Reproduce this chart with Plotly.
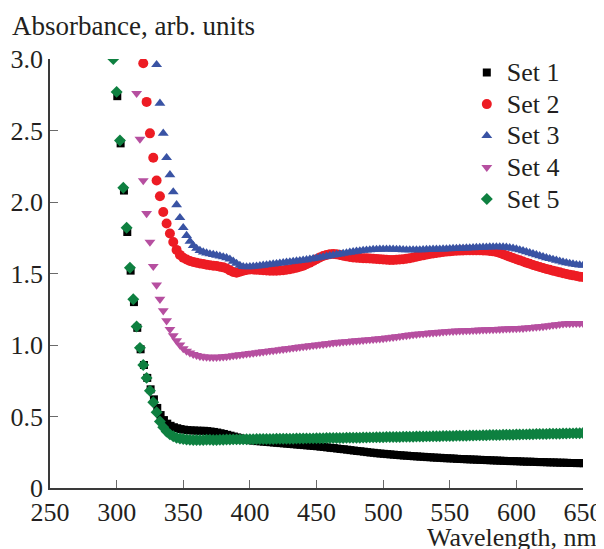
import plotly.graph_objects as go

# ---------------- data (absorbance) ----------------
STEP = 2.5            # nm between successive points
START_MAIN = 297.5    # first wavelength of Sets 2-5
START_SET1 = 300.5    # first wavelength of Set 1

set1 = [
    2.74, 2.41, 2.08, 1.79, 1.52, 1.30, 1.12, 0.97, 0.86, 0.77,
    0.69, 0.62, 0.56, 0.51, 0.475, 0.45, 0.435, 0.425, 0.418, 0.412,
    0.408, 0.405, 0.403, 0.402, 0.401, 0.40, 0.40, 0.398, 0.395, 0.392,
    0.388, 0.383, 0.378, 0.372, 0.366, 0.36, 0.354, 0.348, 0.343, 0.338,
    0.334, 0.331, 0.328, 0.326, 0.324, 0.322, 0.32, 0.318, 0.316, 0.314,
    0.312, 0.31, 0.308, 0.306, 0.304, 0.302, 0.30, 0.298, 0.296, 0.294,
    0.292, 0.289, 0.287, 0.284, 0.281, 0.279, 0.276, 0.273, 0.271, 0.268,
    0.265, 0.262, 0.259, 0.257, 0.254, 0.251, 0.248, 0.246, 0.243, 0.241,
    0.239, 0.237, 0.235, 0.233, 0.231, 0.229, 0.227, 0.226, 0.224, 0.222,
    0.221, 0.219, 0.218, 0.216, 0.215, 0.213, 0.212, 0.211, 0.209, 0.208,
    0.207, 0.206, 0.204, 0.203, 0.202, 0.201, 0.20, 0.199, 0.198, 0.197,
    0.196, 0.195, 0.194, 0.193, 0.192, 0.191, 0.19, 0.189, 0.188, 0.188,
    0.187, 0.186, 0.185, 0.184, 0.184, 0.183, 0.182, 0.181, 0.181, 0.18,
    0.179, 0.179, 0.178, 0.177, 0.177, 0.176, 0.175, 0.175, 0.174, 0.174,
    0.173,
]

set2 = [
    None, None, None, None, None, None, None, None, None, 2.97,
    2.70, 2.48, 2.31, 2.15, 2.04, 1.93, 1.85, 1.78, 1.72, 1.665,
    1.63, 1.61, 1.598, 1.588, 1.58, 1.575, 1.57, 1.566, 1.562, 1.558,
    1.555, 1.552, 1.548, 1.543, 1.535, 1.522, 1.51, 1.505, 1.512, 1.52,
    1.525, 1.528, 1.528, 1.527, 1.525, 1.523, 1.521, 1.52, 1.52, 1.52,
    1.521, 1.523, 1.526, 1.53, 1.535, 1.54, 1.547, 1.555, 1.565, 1.576,
    1.588, 1.60, 1.612, 1.622, 1.63, 1.635, 1.636, 1.634, 1.63, 1.625,
    1.62, 1.616, 1.612, 1.61, 1.608, 1.607, 1.606, 1.605, 1.604, 1.602,
    1.60, 1.598, 1.596, 1.595, 1.595, 1.596, 1.598, 1.60, 1.603, 1.607,
    1.612, 1.617, 1.622, 1.627, 1.632, 1.636, 1.64, 1.644, 1.647, 1.65,
    1.653, 1.655, 1.657, 1.659, 1.66, 1.661, 1.662, 1.662, 1.662, 1.662,
    1.662, 1.661, 1.66, 1.658, 1.655, 1.65, 1.643, 1.635, 1.626, 1.617,
    1.608, 1.60, 1.592, 1.584, 1.576, 1.568, 1.56, 1.553, 1.546, 1.539,
    1.532, 1.526, 1.52, 1.514, 1.508, 1.502, 1.497, 1.492, 1.487, 1.482,
    1.478, 1.475,
]

set3 = [
    None, None, None, None, None, None, None, None, None, None,
    None, None, None, 2.96, 2.69, 2.48, 2.31, 2.19, 2.07, 1.98,
    1.89, 1.82, 1.765, 1.725, 1.695, 1.675, 1.66, 1.65, 1.643, 1.637,
    1.632, 1.627, 1.622, 1.616, 1.61, 1.60, 1.585, 1.57, 1.556, 1.548,
    1.546, 1.547, 1.549, 1.551, 1.554, 1.557, 1.56, 1.563, 1.566, 1.569,
    1.572, 1.575, 1.578, 1.581, 1.584, 1.587, 1.59, 1.593, 1.596, 1.60,
    1.604, 1.608, 1.612, 1.616, 1.62, 1.624, 1.628, 1.632, 1.636, 1.64,
    1.644, 1.648, 1.652, 1.655, 1.658, 1.661, 1.663, 1.665, 1.667, 1.668,
    1.669, 1.67, 1.67, 1.67, 1.669, 1.668, 1.667, 1.666, 1.665, 1.665,
    1.665, 1.665, 1.665, 1.666, 1.667, 1.668, 1.669, 1.67, 1.67, 1.671,
    1.672, 1.673, 1.674, 1.675, 1.676, 1.677, 1.678, 1.679, 1.68, 1.681,
    1.682, 1.683, 1.684, 1.685, 1.686, 1.686, 1.686, 1.685, 1.683, 1.68,
    1.676, 1.671, 1.665, 1.659, 1.652, 1.645, 1.638, 1.631, 1.624, 1.617,
    1.61, 1.604, 1.598, 1.592, 1.586, 1.58, 1.575, 1.57, 1.566, 1.562,
    1.559, 1.556,
]

set4 = [
    None, None, None, None, None, None, None, 2.76, 2.44, 2.15,
    1.92, 1.72, 1.55, 1.42, 1.32, 1.24, 1.17, 1.11, 1.065, 1.03,
    1.0, 0.975, 0.958, 0.945, 0.935, 0.928, 0.922, 0.918, 0.916, 0.915,
    0.915, 0.915, 0.916, 0.918, 0.92, 0.923, 0.926, 0.929, 0.932, 0.935,
    0.938, 0.941, 0.944, 0.947, 0.95, 0.953, 0.956, 0.959, 0.962, 0.965,
    0.968, 0.971, 0.974, 0.977, 0.98, 0.983, 0.986, 0.989, 0.992, 0.995,
    0.998, 1.0, 1.003, 1.006, 1.009, 1.012, 1.015, 1.018, 1.02, 1.022,
    1.024, 1.026, 1.028, 1.03, 1.032, 1.034, 1.036, 1.038, 1.04, 1.042,
    1.044, 1.046, 1.049, 1.052, 1.055, 1.058, 1.061, 1.064, 1.067, 1.07,
    1.073, 1.076, 1.078, 1.08, 1.082, 1.084, 1.086, 1.088, 1.09, 1.092,
    1.094, 1.096, 1.097, 1.098, 1.099, 1.10, 1.101, 1.102, 1.103, 1.104,
    1.105, 1.106, 1.107, 1.108, 1.109, 1.11, 1.111, 1.112, 1.113, 1.114,
    1.115, 1.116, 1.117, 1.118, 1.12, 1.122, 1.124, 1.126, 1.128, 1.13,
    1.133, 1.136, 1.139, 1.142, 1.145, 1.148, 1.15, 1.151, 1.152, 1.152,
    1.152, 1.152,
]

set5 = [
    3.00, 2.77, 2.43, 2.10, 1.82, 1.54, 1.32, 1.13, 0.98, 0.86,
    0.77, 0.68, 0.60, 0.53, 0.465, 0.425, 0.395, 0.375, 0.362, 0.352,
    0.346, 0.342, 0.339, 0.337, 0.336, 0.335, 0.335, 0.336, 0.337, 0.337,
    0.336, 0.336, 0.337, 0.338, 0.339, 0.339, 0.34, 0.34, 0.34, 0.34,
    0.341, 0.341, 0.341, 0.342, 0.342, 0.342, 0.343, 0.343, 0.343, 0.344,
    0.344, 0.344, 0.345, 0.345, 0.345, 0.346, 0.346, 0.346, 0.347, 0.347,
    0.347, 0.348, 0.348, 0.348, 0.349, 0.349, 0.349, 0.35, 0.35, 0.35,
    0.351, 0.351, 0.352, 0.352, 0.352, 0.353, 0.353, 0.354, 0.354, 0.355,
    0.355, 0.355, 0.356, 0.356, 0.357, 0.357, 0.357, 0.358, 0.358, 0.359,
    0.359, 0.36, 0.36, 0.36, 0.361, 0.361, 0.362, 0.362, 0.362, 0.363,
    0.363, 0.364, 0.364, 0.365, 0.365, 0.366, 0.366, 0.367, 0.367, 0.368,
    0.368, 0.369, 0.369, 0.37, 0.37, 0.371, 0.371, 0.372, 0.372, 0.373,
    0.373, 0.374, 0.374, 0.375, 0.375, 0.376, 0.376, 0.377, 0.377, 0.378,
    0.378, 0.379, 0.379, 0.38, 0.38, 0.381, 0.381, 0.382, 0.382, 0.383,
    0.383, 0.384,
]

series_names = ["Set 1", "Set 2", "Set 3", "Set 4", "Set 5"]
x_ticks = [250, 300, 350, 400, 450, 500, 550, 600, 650]
y_ticks = [0, 0.5, 1.0, 1.5, 2.0, 2.5, 3.0]
y_tick_text = ["0", "0.5", "1.0", "1.5", "2.0", "2.5", "3.0"]


def wavelengths(start, n):
    return [start + STEP * i for i in range(n)]


styles = [
    dict(symbol="square", size=8, color="#000000"),
    dict(symbol="circle", size=10, color="#ED1C24"),
    dict(symbol="triangle-up", size=9.5, color="#3953A4"),
    dict(symbol="triangle-down", size=9.5, color="#B64FA0"),
    dict(symbol="diamond", size=9.2, color="#0E8040"),
]
values = [set1, set2, set3, set4, set5]
starts = [START_SET1, START_MAIN, START_MAIN, START_MAIN, START_MAIN]

FONT = "Liberation Serif"
TXT = "#231F20"

fig = go.Figure()
for name, vals, st, sty in zip(series_names, values, starts, styles):
    fig.add_trace(go.Scatter(
        x=wavelengths(st, len(vals)), y=vals, mode="markers",
        name='<span style="font-size:26px">' + name + '</span>',
        marker=dict(symbol=sty["symbol"], size=sty["size"], color=sty["color"],
                    line=dict(width=0)),
        cliponaxis=True,
    ))

axis_common = dict(
    showline=True, linecolor="#3a3a3a", linewidth=1.5,
    ticks="inside", ticklen=8, tickwidth=1.2, tickcolor="#6a6a6a",
    showgrid=False, zeroline=False, automargin=False,
    tickfont=dict(family=FONT, size=26, color=TXT),
)

# the page has an 8 px body margin, so the figure is drawn 8 px in from the window edge
fig.update_layout(
    template="none",
    width=596, height=541,
    margin=dict(l=42, r=21, t=51, b=61, autoexpand=False),
    paper_bgcolor="white", plot_bgcolor="white",
    font=dict(family=FONT, size=26, color=TXT),
    xaxis=dict(range=[250, 650], tickvals=x_ticks, **axis_common),
    yaxis=dict(range=[0, 3.0], tickvals=y_ticks, ticktext=y_tick_text, **axis_common),
    showlegend=True,
    legend=dict(x=0.782, y=1.017, xanchor="left", yanchor="top",
                bgcolor="rgba(0,0,0,0)", font=dict(family=FONT, size=22, color=TXT),
                itemwidth=30, tracegroupgap=0),
    annotations=[
        dict(text="Absorbance, arb. units", xref="paper", yref="paper",
             x=-0.075, y=1.078, xanchor="left", yanchor="middle", showarrow=False,
             font=dict(family=FONT, size=27, color=TXT)),
        dict(text="Wavelength, nm", xref="paper", yref="paper",
             x=1.03, y=-0.115, xanchor="right", yanchor="middle", showarrow=False,
             font=dict(family=FONT, size=26, color=TXT)),
    ],
)

fig.write_html("out.html")
